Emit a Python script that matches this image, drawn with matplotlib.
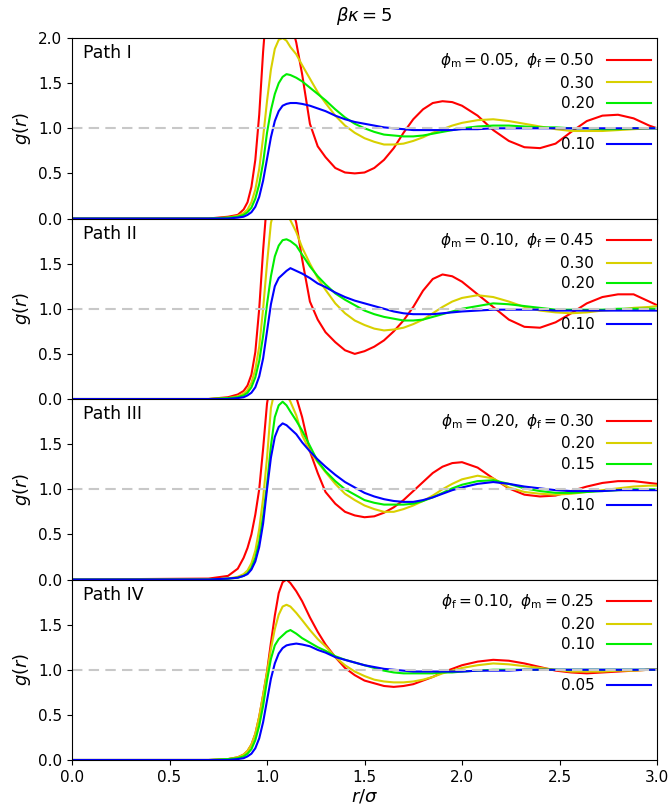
import matplotlib.pyplot as plt
from matplotlib.lines import Line2D

plt.rcParams['font.family'] = ['DejaVu Sans']
plt.rcParams['mathtext.fontset'] = 'dejavusans'

# 公共 r/sigma 网格
r = [0.00, 0.70, 0.80, 0.85, 0.88, 0.90, 0.92, 0.94, 0.96, 0.98,
     1.00, 1.02, 1.04, 1.06, 1.08, 1.10, 1.12, 1.15, 1.18, 1.22,
     1.26, 1.30, 1.35, 1.40, 1.45, 1.50, 1.55, 1.60, 1.65, 1.70,
     1.75, 1.80, 1.85, 1.90, 1.95, 2.00, 2.08, 2.16, 2.24, 2.32,
     2.40, 2.48, 2.56, 2.64, 2.72, 2.80, 2.88, 2.96, 3.00]

# Path I: phi_m = 0.05, phi_f = 0.50 / 0.30 / 0.20 / 0.10
g1_050 = [0, 0, 0.02, 0.04, 0.10, 0.18, 0.35, 0.65, 1.15, 1.85,
          2.40, 2.70, 2.80, 2.75, 2.60, 2.40, 2.20, 1.95, 1.60, 1.05,
          0.80, 0.68, 0.56, 0.51, 0.50, 0.51, 0.56, 0.65, 0.78, 0.95,
          1.10, 1.21, 1.28, 1.30, 1.29, 1.25, 1.14, 0.98, 0.86, 0.79,
          0.78, 0.83, 0.96, 1.08, 1.14, 1.15, 1.11, 1.03, 1.00]
g1_030 = [0, 0, 0.01, 0.03, 0.06, 0.10, 0.18, 0.32, 0.55, 0.90,
          1.30, 1.65, 1.88, 1.98, 2.00, 1.97, 1.90, 1.82, 1.70, 1.55,
          1.40, 1.28, 1.14, 1.03, 0.95, 0.89, 0.85, 0.82, 0.82, 0.83,
          0.86, 0.90, 0.95, 0.99, 1.03, 1.06, 1.09, 1.10, 1.08, 1.05,
          1.02, 0.99, 0.97, 0.97, 0.97, 0.98, 0.99, 1.00, 1.00]
g1_020 = [0, 0, 0.01, 0.02, 0.04, 0.07, 0.12, 0.22, 0.38, 0.62,
          0.95, 1.20, 1.38, 1.50, 1.57, 1.60, 1.59, 1.56, 1.52, 1.45,
          1.38, 1.31, 1.21, 1.12, 1.05, 1.00, 0.96, 0.93, 0.92, 0.91,
          0.91, 0.92, 0.94, 0.96, 0.98, 1.00, 1.02, 1.03, 1.03, 1.02,
          1.01, 1.01, 1.00, 1.00, 0.99, 0.99, 1.00, 1.00, 1.00]
g1_010 = [0, 0, 0.00, 0.01, 0.02, 0.04, 0.07, 0.13, 0.24, 0.42,
          0.66, 0.90, 1.08, 1.19, 1.25, 1.27, 1.28, 1.28, 1.27, 1.25,
          1.22, 1.19, 1.14, 1.10, 1.07, 1.05, 1.03, 1.01, 1.00, 0.99,
          0.98, 0.98, 0.98, 0.98, 0.98, 0.99, 0.99, 1.00, 1.00, 1.00,
          1.00, 1.00, 1.00, 1.00, 1.00, 1.00, 1.00, 1.00, 1.00]

# Path II: phi_m = 0.10, phi_f = 0.45 / 0.30 / 0.20 / 0.10
g2_045 = [0, 0, 0.02, 0.05, 0.09, 0.15, 0.27, 0.52, 1.00, 1.65,
          2.20, 2.50, 2.60, 2.60, 2.50, 2.35, 2.20, 1.95, 1.55, 1.08,
          0.88, 0.74, 0.63, 0.54, 0.50, 0.53, 0.58, 0.65, 0.75, 0.87,
          1.02, 1.20, 1.33, 1.38, 1.36, 1.30, 1.16, 1.02, 0.88, 0.80,
          0.79, 0.85, 0.95, 1.06, 1.13, 1.16, 1.16, 1.08, 1.04]
g2_030 = [0, 0, 0.01, 0.03, 0.06, 0.10, 0.18, 0.33, 0.58, 1.00,
          1.50, 1.95, 2.12, 2.18, 2.15, 2.07, 1.98, 1.85, 1.68, 1.50,
          1.34, 1.21, 1.06, 0.95, 0.87, 0.82, 0.78, 0.76, 0.77, 0.79,
          0.83, 0.88, 0.95, 1.02, 1.08, 1.12, 1.15, 1.13, 1.08, 1.02,
          0.98, 0.96, 0.95, 0.96, 0.98, 0.99, 1.01, 1.02, 1.03]
g2_020 = [0, 0, 0.01, 0.02, 0.04, 0.07, 0.13, 0.24, 0.42, 0.70,
          1.05, 1.36, 1.58, 1.70, 1.76, 1.77, 1.75, 1.70, 1.60, 1.47,
          1.36, 1.27, 1.17, 1.10, 1.04, 0.98, 0.94, 0.91, 0.89, 0.87,
          0.87, 0.88, 0.91, 0.94, 0.97, 1.00, 1.03, 1.06, 1.05, 1.03,
          1.01, 0.99, 0.99, 0.99, 0.99, 1.00, 1.00, 1.00, 1.00]
g2_010 = [0, 0, 0.00, 0.01, 0.02, 0.04, 0.07, 0.13, 0.25, 0.45,
          0.75, 1.05, 1.25, 1.34, 1.38, 1.42, 1.45, 1.42, 1.39, 1.34,
          1.28, 1.24, 1.18, 1.13, 1.09, 1.06, 1.03, 1.00, 0.97, 0.95,
          0.94, 0.94, 0.94, 0.95, 0.96, 0.97, 0.98, 0.99, 0.99, 0.99,
          0.99, 0.98, 0.98, 0.98, 0.98, 0.98, 0.98, 0.98, 0.98]

# Path III: phi_m = 0.20, phi_f = 0.30 / 0.20 / 0.15 / 0.10
g3_030 = [0, 0.01, 0.04, 0.12, 0.24, 0.35, 0.50, 0.72, 1.00, 1.45,
          1.95, 2.20, 2.32, 2.35, 2.32, 2.25, 2.15, 2.02, 1.80, 1.42,
          1.18, 0.97, 0.84, 0.75, 0.71, 0.69, 0.70, 0.74, 0.80, 0.88,
          0.98, 1.08, 1.18, 1.25, 1.29, 1.30, 1.24, 1.12, 1.01, 0.94,
          0.92, 0.93, 0.98, 1.03, 1.07, 1.09, 1.09, 1.07, 1.06]
g3_020 = [0, 0, 0.01, 0.03, 0.06, 0.10, 0.18, 0.32, 0.56, 0.90,
          1.35, 1.90, 2.10, 2.15, 2.12, 2.05, 1.97, 1.82, 1.60, 1.42,
          1.30, 1.19, 1.06, 0.95, 0.88, 0.82, 0.78, 0.75, 0.75, 0.78,
          0.82, 0.87, 0.93, 1.00, 1.06, 1.11, 1.15, 1.12, 1.02, 0.97,
          0.95, 0.94, 0.95, 0.97, 0.99, 1.01, 1.03, 1.04, 1.04]
g3_015 = [0, 0, 0.01, 0.02, 0.04, 0.07, 0.13, 0.24, 0.42, 0.70,
          1.05, 1.48, 1.80, 1.93, 1.97, 1.93, 1.86, 1.76, 1.65, 1.48,
          1.31, 1.20, 1.09, 1.00, 0.94, 0.88, 0.85, 0.83, 0.83, 0.83,
          0.84, 0.87, 0.91, 0.96, 1.01, 1.05, 1.09, 1.10, 1.06, 1.01,
          0.98, 0.96, 0.96, 0.97, 0.98, 0.99, 1.00, 1.00, 1.00]
g3_010 = [0, 0, 0.01, 0.02, 0.04, 0.06, 0.11, 0.20, 0.36, 0.62,
          1.00, 1.35, 1.58, 1.69, 1.73, 1.71, 1.67, 1.61, 1.52, 1.42,
          1.33, 1.25, 1.16, 1.08, 1.02, 0.96, 0.92, 0.89, 0.87, 0.86,
          0.86, 0.88, 0.91, 0.95, 0.99, 1.02, 1.06, 1.08, 1.06, 1.03,
          1.01, 0.99, 0.98, 0.98, 0.98, 0.99, 0.99, 0.99, 0.99]

# Path IV: phi_f = 0.10, phi_m = 0.25 / 0.20 / 0.10 / 0.05
g4_025 = [0, 0, 0.01, 0.03, 0.06, 0.10, 0.17, 0.29, 0.48, 0.72,
          0.98, 1.30, 1.60, 1.85, 1.97, 2.00, 1.96, 1.87, 1.76, 1.58,
          1.42, 1.28, 1.14, 1.02, 0.94, 0.88, 0.85, 0.82, 0.81, 0.82,
          0.84, 0.88, 0.92, 0.97, 1.01, 1.05, 1.09, 1.11, 1.10, 1.07,
          1.03, 0.99, 0.97, 0.96, 0.97, 0.98, 0.99, 1.00, 1.00]
g4_020 = [0, 0, 0.01, 0.03, 0.06, 0.10, 0.17, 0.29, 0.48, 0.72,
          0.97, 1.23, 1.45, 1.61, 1.70, 1.72, 1.70, 1.63, 1.55, 1.44,
          1.34, 1.26, 1.14, 1.05, 0.98, 0.93, 0.89, 0.87, 0.86, 0.86,
          0.87, 0.89, 0.92, 0.96, 0.99, 1.02, 1.05, 1.07, 1.06, 1.04,
          1.02, 1.00, 0.98, 0.98, 0.98, 0.99, 0.99, 1.00, 1.00]
g4_010 = [0, 0, 0.01, 0.02, 0.04, 0.07, 0.12, 0.22, 0.38, 0.60,
          0.88, 1.12, 1.27, 1.34, 1.38, 1.42, 1.44, 1.40, 1.35, 1.30,
          1.25, 1.21, 1.15, 1.11, 1.08, 1.05, 1.02, 0.99, 0.97, 0.96,
          0.96, 0.96, 0.96, 0.97, 0.97, 0.98, 0.99, 1.00, 1.00, 1.00,
          1.00, 1.00, 1.00, 1.00, 1.00, 1.00, 1.00, 1.00, 1.00]
g4_005 = [0, 0, 0.00, 0.01, 0.02, 0.04, 0.07, 0.13, 0.24, 0.42,
          0.66, 0.90, 1.07, 1.18, 1.24, 1.27, 1.28, 1.29, 1.28, 1.26,
          1.22, 1.19, 1.14, 1.11, 1.08, 1.05, 1.03, 1.01, 1.00, 0.99,
          0.98, 0.98, 0.98, 0.98, 0.98, 0.98, 0.99, 0.99, 0.99, 1.00,
          1.00, 1.00, 1.00, 1.00, 1.00, 1.00, 1.00, 1.00, 1.00]

path_names = ['Path I', 'Path II', 'Path III', 'Path IV']
labels1 = [r'$\phi_{\rm m} = 0.05,\ \phi_{\rm f} = 0.50$', '0.30', '0.20', '0.10']
labels2 = [r'$\phi_{\rm m} = 0.10,\ \phi_{\rm f} = 0.45$', '0.30', '0.20', '0.10']
labels3 = [r'$\phi_{\rm m} = 0.20,\ \phi_{\rm f} = 0.30$', '0.20', '0.15', '0.10']
labels4 = [r'$\phi_{\rm f} = 0.10,\ \phi_{\rm m} = 0.25$', '0.20', '0.10', '0.05']

colors = ['#ff0000', '#d8d000', '#00ee00', '#0000ff']

panels = [
    (path_names[0], [g1_050, g1_030, g1_020, g1_010], labels1),
    (path_names[1], [g2_045, g2_030, g2_020, g2_010], labels2),
    (path_names[2], [g3_030, g3_020, g3_015, g3_010], labels3),
    (path_names[3], [g4_025, g4_020, g4_010, g4_005], labels4),
]

fig, axes = plt.subplots(4, 1, figsize=(6.7, 8.11), sharex=True)
fig.subplots_adjust(left=0.1075, right=0.9806, top=0.9531, bottom=0.0629,
                    hspace=0)

for i, (ax, (name, curves, labels)) in enumerate(zip(axes, panels)):
    handles = []
    for g, c in zip(curves, colors):
        h, = ax.plot(r, g, color=c, lw=1.5)
        handles.append(h)
    # g=1 参考线画在曲线上面
    ax.axhline(1.0, color='#c8c8c8', ls='--', lw=1.5, dashes=(5, 3))

    ax.set_xlim(0, 3)
    ax.set_ylim(0, 2)
    if i == 0:
        ax.set_yticks([0, 0.5, 1.0, 1.5, 2.0])
    else:
        ax.set_yticks([0, 0.5, 1.0, 1.5])
    ax.tick_params(labelsize=11)
    ax.set_ylabel(r'$g(r)$', fontsize=13, labelpad=4)

    ax.text(0.018, 0.915, name, transform=ax.transAxes, fontsize=12.5,
            va='center', ha='left')

    # 第 3、4 条之间空一行
    blank = Line2D([], [], color='none')
    leg_handles = handles[:3] + [blank, handles[3]]
    leg_labels = labels[:3] + [' ', labels[3]]
    ax.legend(leg_handles, leg_labels, loc='upper right',
              bbox_to_anchor=(1.0, 0.962), frameon=False,
              markerfirst=False, fontsize=11, handlelength=2.9,
              handletextpad=0.8, labelspacing=0.36, borderpad=0.3,
              borderaxespad=0.1)

axes[0].set_title(r'$\beta\kappa = 5$', fontsize=13, pad=12)
axes[-1].set_xticks([0, 0.5, 1.0, 1.5, 2.0, 2.5, 3.0])
axes[-1].set_xlabel(r'$r/\sigma$', fontsize=13, labelpad=2)

fig.savefig('out.png', dpi=100)
